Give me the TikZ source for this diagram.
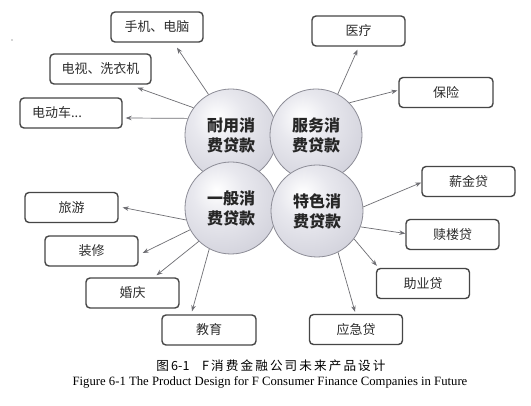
\documentclass[tikz,border=0pt]{standalone}
\usepackage{fontspec}
\setmainfont{Liberation Serif}
\newfontfamily\cjk{Noto Sans CJK SC}
\usetikzlibrary{calc,arrows.meta}
\definecolor{bubedge}{RGB}{196,196,208}
\definecolor{bubmid}{RGB}{232,232,238}
\definecolor{circline}{RGB}{140,140,150}
\definecolor{boxc}{RGB}{70,70,70}
\definecolor{txtc}{RGB}{45,45,45}
\definecolor{arrc}{RGB}{110,110,115}
\pgfdeclareradialshading{bubble}{\pgfpoint{-8bp}{10bp}}{color(0bp)=(white); color(14bp)=(bubmid); color(48bp)=(bubedge); color(100bp)=(bubedge)}
\tikzset{
  bub/.style={circle, minimum size=92pt, inner sep=0pt, shading=bubble, draw=circline, line width=0.8pt, align=center, text=black!85, font=\cjk\bfseries\fontsize{16}{20}\selectfont},
  box/.style={draw=boxc, line width=1.4pt, rounded corners=4pt, minimum height=30pt, minimum width=93pt, inner sep=0pt, fill=white, text=txtc, font=\cjk\fontsize{13}{15}\selectfont},
  arr/.style={draw=arrc, line width=0.7pt, -{Stealth[length=6pt,width=4.5pt]}}
}
\begin{document}
\begin{tikzpicture}[x=1pt,y=-1pt]
\fill[white] (0,0) rectangle (531,406);
\useasboundingbox (0,0) rectangle (531,406);
\fill[black!70] (12,40) circle (0.6pt);
% boxes
\node[box, minimum width=92pt] (b1) at (157,27) {手机、电脑};
\node[box, minimum width=101pt] (b2) at (100.5,69) {电视、洗衣机};
\node[box, minimum width=102pt] (b3) at (71,113) {\hspace*{-28pt}电动车...};
\node[box] (b4) at (358.5,31) {医疗};
\node[box, minimum width=94pt] (b5) at (446,92.5) {保险};
\node[box] (b6) at (71.5,207.5) {旅游};
\node[box] (b7) at (91.5,251) {装修};
\node[box] (b8) at (132.5,293) {婚庆};
\node[box, minimum width=94pt] (b9) at (209,330) {教育};
\node[box] (b10) at (468.5,181.5) {薪金贷};
\node[box] (b11) at (452.5,234.5) {赎楼贷};
\node[box] (b12) at (423,283.5) {助业贷};
\node[box] (b13) at (356,329.5) {应急贷};
% circles
\node[bub] (tl) at (231,135) {耐用消\\费贷款};
\node[bub] (tr) at (316,135) {服务消\\费贷款};
\node[bub] (bl) at (231,208) {一般消\\费贷款};
\node[bub] (br) at (317,211) {特色消\\费贷款};
% arrows
\draw[arr] (tl.119) -- ($(b1.south)+(20,5)$);
\draw[arr] (tl.144) -- ($(b2.south)+(37,3)$);
\draw[arr] (tl.159) -- ($(b3.east)+(3,5)$);
\draw[arr] (tr.62) -- ($(b4.south)+(-1,3)$);
\draw[arr] (tr.44) -- ($(b5.west)+(-1,-2)$);
\draw[arr] (bl.195) -- ($(b6.east)+(4,0)$);
\draw[arr] (bl.208) -- ($(b7.east)+(4,2)$);
\draw[arr] (bl.226) -- ($(b8.north)+(24,-2)$);
\draw[arr] (bl.242) -- ($(b9.north)+(-17,-3)$);
\draw[arr] (br.5) -- ($(b10.west)+(0,1)$);
\draw[arr] (br.-20) -- ($(b11.west)+(0,-1)$);
\draw[arr] (br.-37) -- ($(b12.north west)+(1,-2)$);
\draw[arr] (br.-63) -- ($(b13.north)+(-1,-2)$);
% caption
\node[font=\cjk\fontsize{12.6}{14}\selectfont] (cap1) at (271,366) {图\,6-1\quad F\,消\,费\,金\,融\,公\,司\,未\,来\,产\,品\,设\,计};
\node[font=\fontsize{12.7}{14}\selectfont] (cap2) at (270,382) {Figure 6-1 The Product Design for F Consumer Finance Companies in Future};
\end{tikzpicture}
\end{document}
